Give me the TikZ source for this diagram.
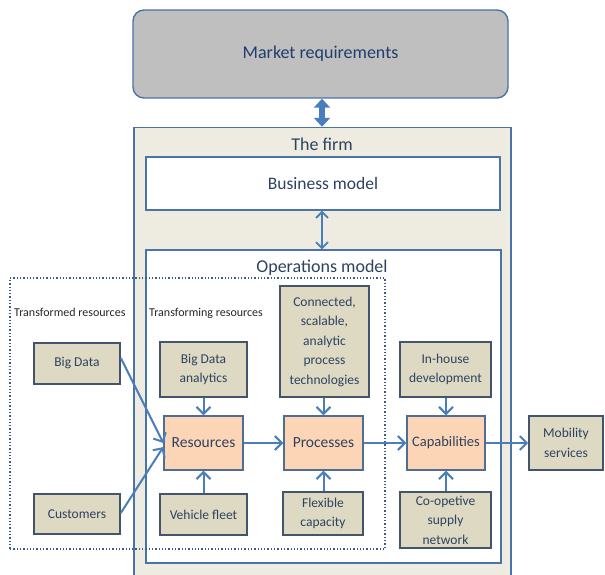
\documentclass[tikz,border=0pt]{standalone}
\usepackage{fontspec}
\setmainfont{Carlito}
\usetikzlibrary{arrows.meta}
\definecolor{mrgray}{HTML}{BFBFBF}
\definecolor{bblue}{HTML}{4A73A8}
\definecolor{firmfill}{HTML}{EEECE1}
\definecolor{tanfill}{HTML}{DDD9C3}
\definecolor{tanborder}{HTML}{44546A}
\definecolor{orfill}{HTML}{FBD5B5}
\definecolor{orborder}{HTML}{4F6E94}
\definecolor{arrblue}{HTML}{4A7EBB}
\definecolor{txt}{HTML}{2E4260}
\definecolor{txtdark}{HTML}{1F3D6E}
\definecolor{dotc}{HTML}{3D5A80}
\tikzset{
  bigbox/.style={draw=bblue, line width=1.4pt, inner sep=0pt},
  tanbox/.style={draw=tanborder, fill=tanfill, line width=1.6pt, inner sep=0pt, align=center,
    text=txt, font=\fontsize{13.5}{19.5}\selectfont},
  orbox/.style={draw=orborder, fill=orfill, line width=1.4pt, inner sep=0pt, align=center,
    text=txt, font=\fontsize{15.5}{17}\selectfont},
  conn/.style={draw=arrblue, line width=2pt, -{Straight Barb[length=7pt,width=14pt,line width=2pt]}},
  lbl/.style={text=txt, inner sep=0pt},
}
\begin{document}
\begin{tikzpicture}[x=1pt,y=-1pt]
\useasboundingbox (0,0) rectangle (605,575);
% Market requirements
\node[bigbox, fill=mrgray, rounded corners=11pt, minimum width=375pt, minimum height=88pt,
  text=txtdark, font=\fontsize{18}{21}\selectfont] (mr) at (320.5,54) {Market requirements};
% The firm
\node[bigbox, fill=firmfill, minimum width=377pt, minimum height=453pt] (firm) at (322.5,354) {};
\node[lbl, font=\fontsize{18}{21}\selectfont] (firmlbl) at (322,144) {The firm};
% Business model
\node[bigbox, fill=white, minimum width=354pt, minimum height=53pt,
  text=txt, font=\fontsize{17.5}{21}\selectfont] (bm) at (323,183.5) {Business model};
% Operations model
\node[bigbox, fill=white, minimum width=355pt, minimum height=313pt] (om) at (323.5,406.5) {};
\node[lbl, font=\fontsize{18}{21}\selectfont] (omlbl) at (322,268) {Operations model};
% dotted region
\node[draw=dotc, dotted, line width=1.3pt, minimum width=375pt, minimum height=271pt, inner sep=0pt] (dots) at (197.5,413.5) {};
\node[lbl, anchor=west, font=\fontsize{12}{14}\selectfont, text=black!85] (trd) at (14,312) {Transformed resources};
\node[lbl, anchor=west, font=\fontsize{12}{14}\selectfont, text=black!85] (trg) at (149,313) {Transforming resources};
% boxes
\node[tanbox, minimum width=86pt, minimum height=41pt] (bigdata) at (77,363.5) {Big Data};
\node[tanbox, minimum width=86pt, minimum height=40pt] (cust) at (77,514) {Customers};
\node[tanbox, minimum width=87pt, minimum height=55pt] (bda) at (203.5,369.5) {Big Data\\analytics};
\node[tanbox, minimum width=89pt, minimum height=111pt] (cpt) at (324.5,341.5) {Connected,\\scalable,\\analytic\\process\\technologies};
\node[tanbox, minimum width=91pt, minimum height=55pt] (ih) at (445.5,369.5) {In-house\\development};
\node[orbox, minimum width=79pt, minimum height=54pt] (res) at (203.5,443) {Resources};
\node[orbox, minimum width=79pt, minimum height=54pt] (proc) at (323.5,443) {Processes};
\node[orbox, minimum width=78pt, minimum height=54pt, font=\fontsize{14.5}{17}\selectfont] (cap) at (446,443) {Capabilities};
\node[tanbox, minimum width=74pt, minimum height=54pt] (mob) at (566,443) {Mobility\\services};
\node[tanbox, minimum width=87pt, minimum height=41pt] (vf) at (203.5,514.5) {Vehicle fleet};
\node[tanbox, minimum width=80pt, minimum height=43pt] (flex) at (323,513.5) {Flexible\\capacity};
\node[tanbox, minimum width=91pt, minimum height=56pt] (coop) at (445.5,520) {Co-opetive\\supply\\network};
% connectors
\draw[draw=arrblue, line width=6pt, {Triangle[length=9pt,width=16pt]}-{Triangle[length=9pt,width=16pt]}]
  (mr.south -| firmlbl) -- (firm.north -| firmlbl);
\draw[draw=arrblue, line width=1.8pt, {Straight Barb[length=6pt,width=12pt,line width=1.8pt]}-{Straight Barb[length=6pt,width=12pt,line width=1.8pt]}]
  (bm.south -| firmlbl) -- (om.north -| firmlbl);
\draw[conn] (bigdata.east |- 0,358) -- (res.west |- 0,443);
\draw[conn] (cust.east |- 0,513) -- (res.west |- 0,447);
\draw[conn] (bda) -- (res);
\draw[conn] (vf) -- (res);
\draw[conn] (cpt.south -| proc) -- (proc);
\draw[conn] (flex.north -| proc) -- (proc);
\draw[conn] (ih.south -| cap) -- (cap);
\draw[conn] (coop.north -| cap) -- (cap);
\draw[conn] (res) -- (proc);
\draw[conn] (proc) -- (cap);
\draw[conn] (cap) -- (mob);
\end{tikzpicture}
\end{document}
